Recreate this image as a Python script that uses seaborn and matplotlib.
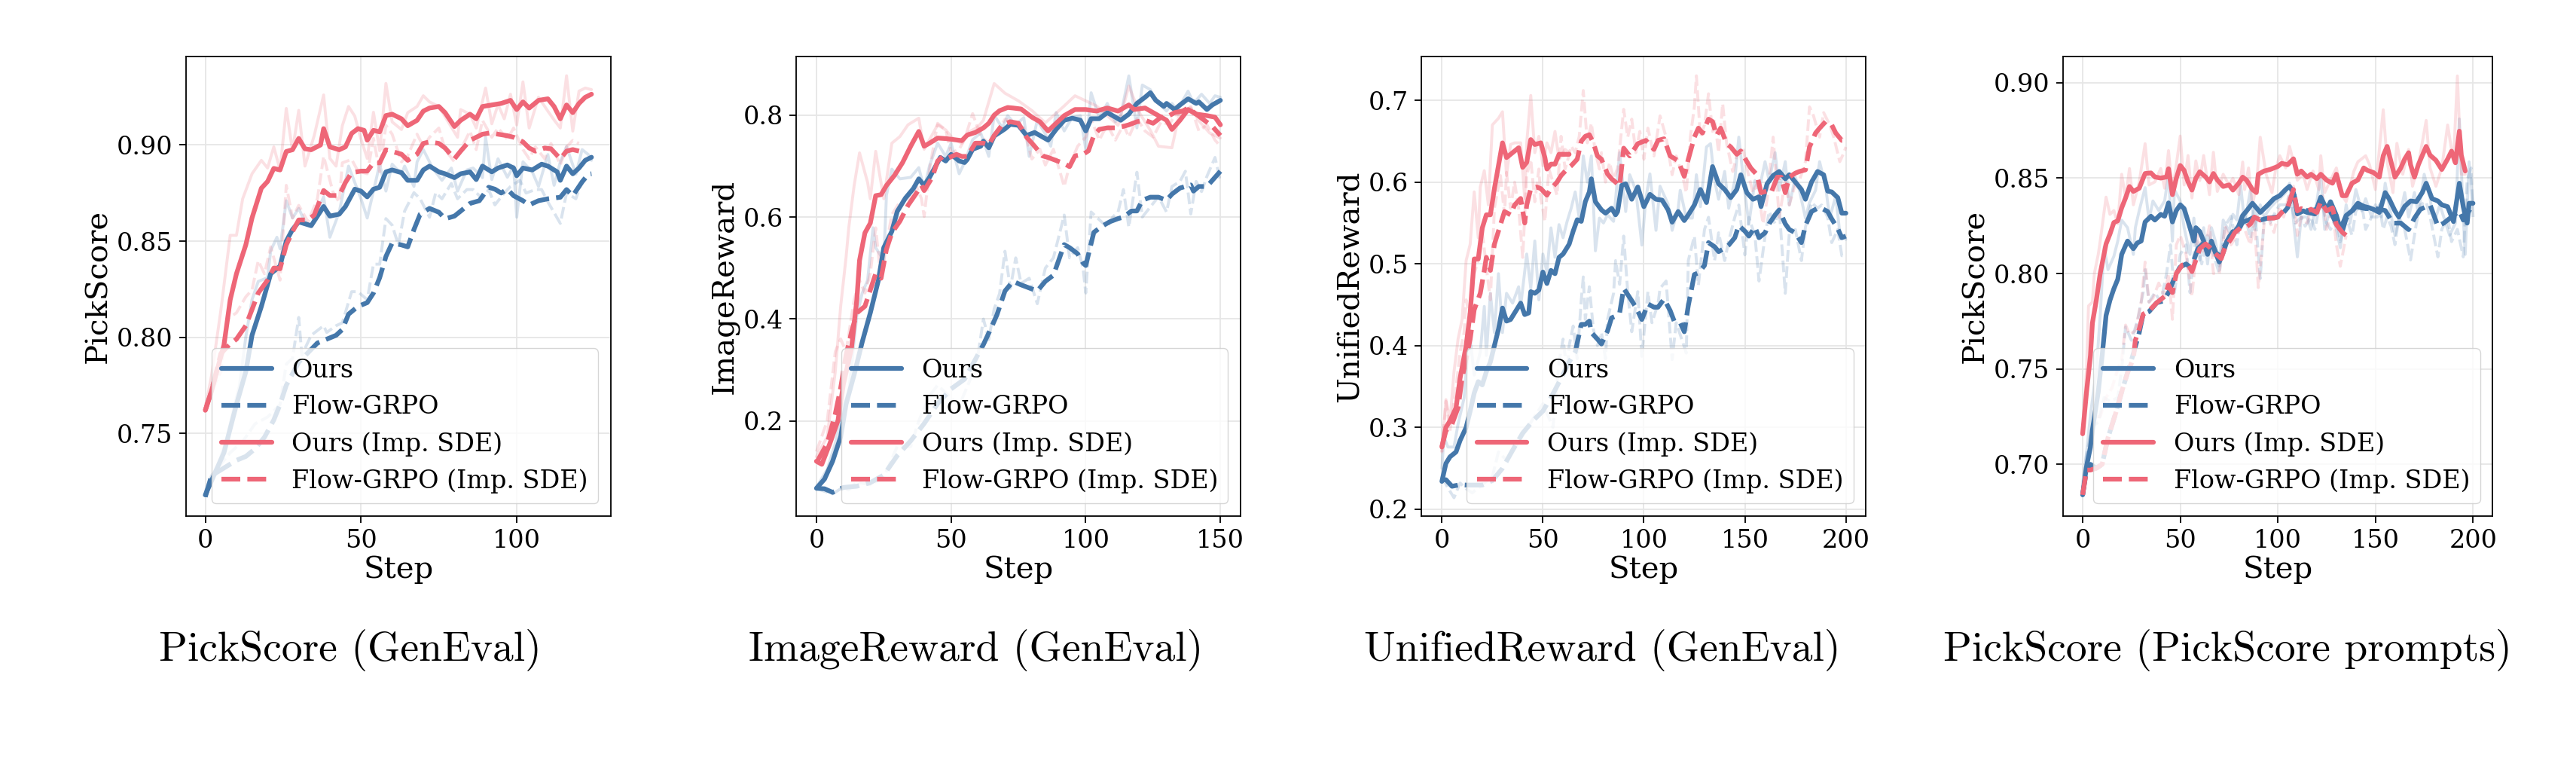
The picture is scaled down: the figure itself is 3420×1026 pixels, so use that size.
import matplotlib
matplotlib.use("Agg")
import matplotlib.pyplot as plt
import seaborn as sns

# (step, value) pairs; "_raw" are the faint unsmoothed traces

# ---- PickScore (GenEval) ----
p1_ours = [(0,.718),(6,.740),(10,.765),(13,.782),(15,.801),(18,.816),(21,.833),(24,.837),(26,.850),(28,.856),(30,.860),(34,.858),(36,.863),(38,.868),(40,.863),(43,.864),(45,.868),(47,.874),(48,.877),(50,.876),(52,.873),(54,.877),(56,.878),(58,.886),(60,.887),(63,.8856),(65,.8816),(68,.8816),(70,.887),(72,.889),(75,.886),(77,.885),(80,.883),(82,.885),(85,.886),(87,.882),(89,.889),(92,.886),(94,.888),(97,.8896),(99,.888),(100,.884),(102,.888),(105,.887),(108,.890),(110,.889),(113,.886),(114,.8816),(116,.889),(118,.885),(120,.888),(122,.892),(124,.8936)]
p1_flow = [(0,.717),(2,.728),(5,.731),(8,.734),(10,.736),(13,.738),(16,.742),(19,.748),(22,.757),(24,.765),(26,.775),(30,.787),(33,.792),(36,.797),(39,.799),(42,.801),(44,.804),(46,.812),(49,.816),(52,.818),(54,.823),(56,.831),(58,.842),(60,.849),(63,.848),(65,.847),(67,.856),(69,.864),(72,.867),(75,.865),(77,.8616),(80,.863),(82,.8656),(85,.8696),(88,.871),(91,.878),(93,.877),(95,.875),(97,.877),(99,.8736),(102,.871),(104,.8688),(107,.871),(110,.872),(114,.8728),(116,.8768),(118,.8736),(121,.8808),(123,.8848),(124,.885)]
p1_ours_imp = [(0,.762),(2,.772),(4,.784),(6,.796),(8,.8195),(10,.833),(13,.848),(15,.862),(18,.8775),(20,.881),(22,.8878),(24,.887),(26,.8966),(28,.8975),(30,.9034),(32,.898),(34,.8975),(37,.900),(38,.9085),(40,.899),(43,.8975),(45,.899),(47,.906),(49,.9085),(51,.9076),(52,.9025),(54,.9076),(56,.9068),(58,.9153),(60,.916),(63,.9136),(65,.910),(68,.9128),(70,.9176),(72,.9192),(75,.920),(77,.9168),(80,.9096),(82,.9128),(85,.916),(87,.9136),(89,.920),(92,.9208),(95,.9216),(98,.9232),(100,.9184),(102,.9224),(104,.9192),(107,.9232),(110,.924),(112,.920),(114,.9136),(116,.9208),(118,.9168),(120,.9216),(122,.9248),(124,.9264)]
p1_flow_imp = [(0,.762),(2,.772),(5,.7915),(8,.7966),(10,.799),(13,.806),(15,.8144),(17,.823),(20,.8297),(22,.836),(24,.8356),(26,.848),(28,.855),(30,.861),(33,.861),(35,.8636),(38,.8763),(40,.8737),(43,.8737),(45,.8805),(47,.8856),(50,.8864),(52,.8864),(54,.8907),(56,.8907),(58,.8975),(60,.8966),(63,.8952),(65,.892),(68,.8952),(70,.9008),(72,.9016),(75,.9008),(77,.8984),(80,.8928),(82,.8968),(85,.9024),(87,.904),(89,.9056),(92,.9064),(94,.9056),(97,.9048),(99,.904),(102,.9016),(104,.8984),(106,.8968),(109,.8984),(111,.898),(114,.8928),(116,.8968),(118,.8976),(120,.8968)]
p1_ours_raw = [(0,.72),(2,.728),(4,.733),(7,.748),(9,.762),(11,.775),(13,.80),(15,.8195),(17,.829),(20,.831),(21,.845),(23,.852),(24,.846),(26,.871),(28,.862),(30,.867),(32,.860),(34,.858),(38,.873),(40,.852),(43,.865),(46,.889),(50,.872),(52,.862),(56,.89),(58,.876),(60,.89),(63,.8848),(64,.889),(67,.8784),(68,.8912),(70,.8976),(73,.888),(76,.8816),(79,.888),(81,.876),(84,.887),(86,.888),(89,.883),(90,.904),(92,.882),(94,.8928),(97,.8832),(99,.889),(100,.8624),(102,.8912),(105,.886),(107,.8784),(110,.895),(112,.879),(114,.8912),(116,.8992),(119,.8848),(121,.8976),(123,.895),(124,.892)]
p1_flow_raw = [(0,.717),(3,.73),(8,.74),(12,.7458),(16,.755),(20,.7585),(24,.765),(26,.786),(28,.789),(30,.8103),(31,.7907),(34,.801),(38,.806),(39,.8025),(42,.806),(44,.8075),(47,.8237),(49,.8237),(52,.8195),(54,.838),(56,.838),(58,.8617),(60,.8583),(62,.848),(64,.8656),(67,.8752),(69,.872),(72,.8624),(74,.8752),(76,.872),(79,.88),(81,.872),(84,.8768),(86,.8768),(89,.872),(91,.8768),(93,.8688),(96,.875),(98,.8784),(101,.8816),(103,.875),(106,.8768),(108,.8768),(110,.8704),(114,.8592),(116,.875),(119,.872),(121,.8816),(123,.8832)]
p1_ours_imp_raw = [(0,.763),(2,.780),(5,.814),(8,.853),(10,.853),(12,.872),(15,.885),(18,.892),(20,.888),(22,.899),(24,.887),(26,.919),(28,.897),(30,.918),(32,.889),(35,.905),(38,.926),(40,.893),(42,.889),(44,.910),(46,.920),(48,.915),(50,.903),(52,.893),(54,.917),(56,.897),(58,.932),(60,.912),(63,.908),(65,.9168),(68,.920),(70,.9256),(72,.9224),(75,.920),(78,.912),(81,.904),(82,.9184),(85,.916),(87,.9088),(90,.9296),(92,.911),(94,.921),(96,.9136),(98,.9264),(100,.9104),(102,.9328),(104,.9088),(107,.9248),(110,.9176),(112,.913),(114,.9088),(116,.936),(118,.9072),(120,.928),(122,.9296),(124,.9288)]
p1_flow_imp_raw = [(0,.765),(2,.772),(5,.782),(7,.8093),(10,.8127),(13,.821),(15,.8246),(17,.8398),(19,.833),(21,.847),(24,.8297),(26,.879),(28,.862),(30,.8686),(33,.860),(36,.872),(38,.8941),(41,.8755),(43,.8703),(44,.8907),(47,.8925),(49,.8864),(52,.885),(54,.9034),(56,.886),(58,.9102),(60,.9056),(63,.8912),(65,.8944),(68,.9056),(70,.8992),(72,.904),(75,.9088),(77,.8976),(80,.8912),(82,.8976),(85,.9072),(87,.8976),(89,.9128),(92,.904),(94,.9088),(97,.903),(99,.9088),(102,.8976),(104,.8928),(106,.899),(109,.8928),(111,.9008),(114,.8896),(116,.899),(118,.9024),(120,.9008)]

# ---- ImageReward (GenEval) ----
p2_ours = [(0,.068),(3,.086),(6,.121),(9,.169),(11,.233),(14,.291),(17,.355),(20,.412),(23,.476),(25,.540),(28,.572),(30,.611),(33,.637),(36,.656),(38,.675),(40,.662),(42,.678),(45,.707),(46,.717),(48,.710),(50,.723),(53,.710),(55,.707),(56,.713),(58,.733),(61,.739),(62,.749),(64,.736),(66,.759),(70,.773),(72,.782),(75,.780),(78,.760),(81,.766),(84,.757),(86,.751),(89,.772),(92,.790),(95,.794),(98,.790),(100,.769),(102,.793),(105,.793),(108,.805),(111,.796),(113,.790),(116,.802),(119,.823),(122,.835),(124,.844),(126,.829),(129,.817),(130,.823),(133,.811),(135,.820),(138,.832),(141,.823),(142,.826),(145,.811),(147,.820),(150,.829)]
p2_flow = [(0,.068),(3,.067),(6,.060),(10,.0696),(15,.072),(20,.079),(25,.094),(30,.132),(35,.161),(40,.195),(45,.234),(50,.263),(55,.282),(58,.311),(62,.350),(65,.384),(67,.408),(70,.455),(73,.474),(76,.467),(79,.461),(82,.455),(85,.474),(88,.486),(90,.516),(92,.546),(94,.540),(97,.528),(99,.510),(100,.505),(103,.570),(106,.582),(109,.591),(112,.597),(114,.600),(117,.612),(119,.612),(121,.633),(124,.639),(127,.639),(130,.633),(132,.645),(135,.657),(139,.663),(140,.651),(142,.660),(145,.660),(147,.672),(150,.690)]
p2_ours_imp = [(0,.121),(2,.115),(5,.156),(8,.201),(10,.272),(13,.342),(15,.438),(16,.515),(18,.569),(20,.588),(22,.642),(24,.644),(26,.662),(29,.682),(32,.707),(35,.739),(38,.768),(40,.739),(42,.745),(45,.755),(48,.754),(51,.752),(54,.750),(56,.761),(59,.766),(62,.775),(64,.784),(66,.800),(68,.8087),(71,.815),(73,.814),(76,.812),(80,.796),(83,.787),(86,.769),(89,.784),(92,.799),(96,.811),(100,.811),(104,.808),(108,.814),(112,.808),(116,.820),(118,.811),(122,.814),(126,.802),(130,.790),(132,.772),(135,.790),(138,.811),(141,.802),(145,.799),(148,.796),(150,.781)]
p2_flow_imp = [(0,.118),(4,.156),(7,.214),(9,.265),(11,.329),(13,.374),(15,.412),(18,.425),(20,.457),(22,.489),(24,.480),(26,.537),(28,.569),(31,.592),(34,.623),(37,.646),(39,.662),(40,.652),(43,.678),(45,.710),(47,.719),(49,.716),(52,.723),(54,.719),(56,.719),(59,.745),(62,.745),(64,.742),(66,.760),(69,.781),(72,.787),(75,.784),(78,.757),(81,.739),(84,.720),(86,.717),(89,.711),(92,.705),(94,.699),(96,.720),(99,.723),(101,.730),(103,.760),(105,.772),(108,.775),(111,.775),(114,.778),(116,.781),(119,.787),(122,.790),(125,.784),(128,.796),(131,.799),(133,.805),(136,.808),(138,.814),(141,.802),(144,.790),(147,.778),(150,.760)]
p2_ours_raw = [(0,.070),(4,.105),(7,.156),(10,.227),(12,.259),(15,.406),(17,.451),(19,.476),(21,.579),(22,.540),(25,.515),(26,.643),(28,.694),(31,.675),(35,.678),(38,.697),(40,.656),(42,.701),(45,.745),(48,.719),(50,.745),(53,.685),(55,.707),(58,.752),(61,.765),(64,.719),(66,.800),(69,.775),(71,.799),(74,.781),(77,.795),(79,.719),(82,.790),(85,.763),(87,.739),(89,.805),(92,.769),(95,.796),(98,.799),(100,.733),(102,.844),(105,.795),(108,.823),(111,.787),(113,.800),(116,.877),(119,.775),(121,.859),(124,.850),(126,.829),(130,.808),(132,.823),(134,.810),(138,.847),(140,.823),(143,.841),(146,.823),(148,.838),(150,.835)]
p2_flow_raw = [(0,.068),(3,.062),(6,.057),(9,.067),(12,.065),(15,.080),(20,.075),(25,.090),(30,.150),(35,.150),(38,.200),(42,.250),(45,.270),(50,.245),(53,.230),(57,.280),(60,.330),(62,.400),(64,.360),(66,.420),(68,.450),(70,.533),(72,.460),(74,.520),(76,.470),(79,.480),(82,.430),(85,.500),(88,.520),(92,.604),(94,.520),(97,.540),(99,.500),(100,.451),(102,.610),(104,.600),(108,.580),(110,.600),(112,.610),(114,.654),(116,.580),(119,.688),(121,.600),(124,.620),(127,.640),(130,.610),(132,.660),(135,.670),(137,.690),(139,.606),(141,.670),(143,.650),(145,.680),(148,.717),(150,.670)]
p2_ours_imp_raw = [(0,.130),(4,.169),(7,.297),(9,.425),(11,.521),(12,.579),(14,.662),(16,.726),(19,.668),(20,.636),(22,.729),(25,.636),(28,.745),(31,.758),(34,.781),(38,.794),(40,.733),(42,.752),(45,.781),(48,.771),(51,.752),(54,.745),(57,.768),(60,.777),(62,.790),(66,.862),(70,.843),(75,.828),(80,.809),(85,.785),(88,.799),(92,.818),(96,.838),(100,.828),(104,.818),(108,.799),(112,.780),(116,.857),(120,.804),(124,.770),(127,.739),(132,.736),(135,.809),(139,.814),(142,.789),(146,.765),(150,.755)]
p2_flow_imp_raw = [(0,.140),(4,.200),(7,.336),(9,.361),(11,.336),(14,.438),(16,.476),(18,.451),(20,.489),(22,.579),(24,.476),(26,.547),(28,.605),(31,.630),(34,.636),(37,.662),(39,.636),(40,.601),(42,.694),(45,.784),(48,.771),(50,.726),(53,.733),(55,.752),(58,.803),(61,.758),(64,.745),(66,.757),(70,.792),(73,.787),(77,.775),(80,.714),(83,.733),(85,.702),(88,.733),(92,.660),(94,.702),(97,.739),(100,.757),(102,.793),(105,.751),(108,.781),(111,.751),(114,.781),(116,.757),(119,.793),(122,.769),(125,.757),(128,.787),(131,.781),(133,.799),(136,.805),(139,.817),(142,.769),(145,.781),(148,.751),(150,.739)]

# ---- UnifiedReward (GenEval) ----
p3_ours = [(0,.234),(2,.256),(4,.264),(7,.270),(9,.284),(12,.300),(14,.320),(16,.342),(18,.356),(20,.352),(22,.368),(24,.380),(26,.400),(28,.420),(30,.446),(32,.430),(34,.432),(37,.444),(39,.452),(41,.438),(43,.440),(44,.466),(46,.464),(48,.468),(50,.490),(52,.476),(54,.492),(56,.488),(58,.508),(60,.512),(63,.524),(65,.540),(67,.554),(69,.552),(71,.576),(73,.588),(74,.604),(76,.576),(79,.566),(81,.562),(84,.568),(86,.560),(87,.564),(89,.596),(91,.598),(94,.579),(97,.594),(100,.570),(103,.585),(106,.579),(109,.578),(112,.566),(114,.551),(117,.564),(120,.553),(122,.560),(125,.572),(128,.591),(131,.575),(134,.619),(137,.598),(140,.591),(143,.581),(146,.591),(148,.609),(151,.587),(154,.579),(157,.582),(158,.570),(161,.598),(164,.608),(167,.613),(170,.604),(172,.609),(175,.600),(178,.591),(180,.579),(183,.600),(186,.613),(189,.609),(191,.589),(193,.588),(196,.581),(198,.562),(200,.562)]
p3_flow = [(0,.236),(2,.236),(5,.228),(9,.230),(12,.2295),(20,.2295),(25,.235),(30,.250),(35,.272),(40,.293),(45,.308),(50,.320),(55,.341),(60,.365),(63,.380),(66,.392),(69,.426),(71,.426),(73,.430),(74,.416),(77,.408),(79,.402),(82,.418),(84,.434),(86,.436),(88,.440),(90,.470),(94,.455),(96,.447),(99,.432),(102,.451),(105,.447),(107,.447),(110,.457),(113,.443),(115,.430),(118,.428),(120,.417),(122,.449),(125,.487),(127,.489),(130,.498),(132,.526),(135,.521),(137,.515),(140,.519),(142,.523),(145,.532),(147,.547),(150,.540),(152,.534),(155,.545),(157,.532),(160,.538),(162,.549),(165,.560),(167,.566),(170,.549),(172,.542),(175,.538),(178,.526),(180,.547),(183,.564),(186,.568),(188,.568),(191,.564),(193,.555),(196,.543),(198,.532),(200,.534)]
p3_ours_imp = [(0,.276),(2,.300),(4,.308),(7,.324),(9,.360),(12,.400),(14,.440),(16,.506),(18,.506),(20,.544),(22,.560),(24,.560),(26,.592),(28,.620),(30,.648),(32,.630),(34,.634),(38,.642),(40,.618),(42,.624),(44,.652),(46,.646),(49,.648),(51,.630),(52,.616),(54,.622),(56,.622),(58,.634),(61,.634),(63,.634)]
p3_flow_imp = [(0,.276),(2,.296),(5,.304),(8,.324),(10,.360),(12,.384),(14,.408),(16,.444),(19,.464),(21,.492),(22,.508),(24,.492),(26,.524),(29,.548),(31,.564),(34,.560),(36,.572),(39,.580),(41,.550),(42,.572),(44,.592),(47,.594),(49,.592),(52,.584),(54,.592),(57,.600),(59,.608),(62,.616),(64,.620),(67,.628),(69,.650),(71,.656),(73,.658),(75,.648),(77,.632),(79,.628),(82,.610),(84,.604),(86,.600),(88,.595),(90,.6415),(93,.632),(97,.647),(101,.651),(105,.640),(107,.651),(110,.653),(113,.632),(117,.626),(120,.607),(122,.628),(125,.655),(127,.666),(129,.660),(132,.677),(134,.674),(136,.657),(138,.666),(141,.647),(143,.643),(146,.634),(148,.638),(151,.625),(153,.617),(156,.609),(158,.587),(161,.589),(163,.587),(166,.606),(168,.606),(170,.587),(172,.606),(175,.611),(177,.613),(180,.615),(182,.643),(185,.660),(187,.666),(190,.674),(193,.670),(195,.660),(198,.651),(200,.651)]
p3_ours_raw = [(0,.250),(1,.288),(3,.276),(6,.276),(8,.304),(11,.336),(12,.368),(14,.408),(16,.364),(19,.392),(21,.448),(22,.388),(24,.464),(26,.416),(28,.488),(30,.416),(32,.464),(35,.452),(38,.472),(39,.448),(42,.512),(44,.470),(46,.528),(48,.456),(50,.512),(52,.490),(54,.544),(56,.508),(58,.548),(60,.532),(62,.552),(64,.568),(66,.588),(68,.556),(70,.632),(72,.600),(74,.632),(76,.516),(78,.556),(80,.550),(82,.560),(85,.552),(86,.579),(88,.636),(91,.564),(93,.609),(96,.590),(99,.523),(101,.580),(103,.610),(106,.541),(108,.595),(112,.573),(114,.541),(117,.568),(118,.590),(121,.556),(124,.556),(126,.609),(128,.570),(131,.643),(133,.647),(135,.602),(137,.579),(140,.613),(142,.568),(145,.602),(147,.655),(150,.587),(152,.549),(155,.602),(157,.590),(160,.625),(162,.602),(165,.636),(167,.590),(170,.625),(172,.572),(175,.606),(177,.590),(180,.556),(182,.575),(185,.590),(187,.625),(190,.594),(192,.556),(195,.583),(197,.538),(200,.530)]
p3_flow_raw = [(0,.240),(3,.226),(6,.214),(9,.232),(12,.225),(15,.220),(20,.230),(25,.240),(28,.270),(32,.260),(36,.275),(40,.290),(45,.310),(50,.329),(55,.300),(58,.380),(60,.408),(62,.368),(63,.400),(65,.424),(67,.384),(69,.456),(70,.484),(71,.432),(73,.472),(75,.420),(77,.400),(79,.416),(81,.384),(82,.432),(85,.464),(86,.504),(88,.475),(90,.534),(92,.466),(94,.417),(97,.466),(99,.387),(102,.466),(104,.428),(107,.451),(108,.470),(111,.479),(114,.383),(116,.428),(119,.406),(121,.391),(122,.504),(125,.534),(127,.474),(130,.542),(132,.557),(135,.504),(137,.538),(140,.504),(142,.528),(145,.557),(147,.572),(150,.511),(152,.557),(155,.534),(157,.479),(160,.534),(162,.564),(165,.549),(167,.568),(170,.464),(172,.538),(175,.542),(178,.504),(180,.545),(183,.575),(186,.568),(188,.572),(191,.557),(193,.526),(196,.542),(198,.510),(200,.510)]
p3_ours_imp_raw = [(0,.270),(2,.334),(4,.308),(6,.368),(8,.408),(10,.432),(12,.504),(14,.524),(16,.588),(18,.532),(19,.594),(21,.614),(23,.572),(25,.670),(28,.678),(30,.686),(32,.608),(34,.646),(36,.648),(39,.648),(41,.580),(42,.648),(44,.706),(46,.636),(48,.656),(50,.620),(52,.648),(54,.636),(56,.662),(58,.628),(61,.640),(63,.636)]
p3_flow_imp_raw = [(0,.270),(2,.332),(4,.296),(7,.348),(9,.392),(11,.416),(12,.456),(14,.432),(16,.488),(18,.504),(20,.540),(22,.496),(24,.456),(26,.568),(29,.608),(31,.560),(32,.612),(34,.568),(36,.600),(38,.568),(40,.508),(42,.608),(44,.628),(46,.576),(48,.616),(49,.580),(51,.552),(53,.616),(55,.600),(57,.584),(59,.656),(61,.616),(62,.624),(64,.644),(66,.636),(68,.656),(70,.712),(72,.648),(74,.672),(76,.636),(78,.616),(79,.636),(81,.600),(83,.624),(85,.604),(87,.617),(90,.689),(92,.655),(94,.677),(96,.636),(98,.662),(100,.628),(102,.666),(105,.632),(108,.681),(111,.655),(114,.609),(116,.632),(119,.609),(121,.587),(123,.655),(125,.692),(126,.730),(128,.655),(130,.670),(132,.708),(134,.662),(135,.677),(137,.636),(139,.696),(141,.647),(144,.613),(146,.632),(149,.643),(151,.617),(154,.587),(156,.598),(159,.549),(161,.579),(164,.655),(167,.557),(170,.602),(172,.572),(175,.598),(177,.602),(180,.625),(182,.692),(184,.681),(187,.655),(189,.685),(192,.670),(194,.655),(197,.625),(199,.636),(200,.643)]

# ---- PickScore (PickScore prompts) ----
p4_ours = [(0,.684),(2,.699),(4,.709),(5,.718),(8,.738),(10,.757),(12,.778),(14,.786),(16,.792),(18,.797),(20,.810),(23,.817),(26,.813),(28,.816),(30,.817),(32,.827),(35,.830),(37,.828),(40,.831),(42,.830),(44,.837),(46,.827),(48,.833),(50,.836),(52,.834),(55,.824),(57,.817),(58,.824),(60,.822),(62,.817),(64,.810),(66,.817),(68,.811),(70,.806),(72,.811),(74,.817),(76,.820),(78,.822),(80,.825),(82,.8304),(84,.8328),(87,.8368),(91,.832),(95,.836),(98,.8392),(101,.8408),(104,.844),(106,.8457),(108,.8424),(110,.8312),(113,.8328),(115,.832),(119,.8312),(122,.840),(125,.8336),(127,.8376),(130,.8304),(132,.8232),(135,.8304),(138,.8328),(141,.8368),(144,.8352),(147,.8344),(149,.8336),(152,.832),(155,.8424),(157,.8392),(160,.8328),(162,.8296),(165,.8352),(168,.838),(171,.8376),(174,.8424),(176,.8473),(179,.8392),(182,.838),(184,.836),(187,.835),(190,.8272),(193,.8473),(195,.835),(197,.8264),(198,.8368),(200,.8368)]
p4_flow = [(0,.684),(2,.697),(4,.700),(7,.698),(10,.700),(13,.714),(17,.727),(20,.738),(23,.748),(26,.758),(29,.769),(31,.7787),(34,.780),(38,.7847),(41,.7855),(44,.790),(46,.795),(48,.800),(50,.8034),(53,.805),(55,.8034),(57,.807),(59,.813),(62,.816),(64,.815),(67,.814),(69,.809),(72,.813),(75,.819),(77,.822),(80,.823),(82,.827),(85,.828),(88,.8296),(91,.828),(95,.829),(100,.8296),(103,.832),(105,.8344),(108,.843),(110,.8328),(113,.833),(117,.833),(120,.8336),(123,.837),(126,.8344),(130,.826),(133,.822),(135,.829),(140,.835),(145,.834),(150,.834),(155,.833),(159,.8264),(163,.8264),(167,.823),(170,.829),(173,.8336),(178,.836),(182,.8248),(185,.8264),(189,.8296),(193,.8328),(195,.828),(198,.8328),(200,.8375)]
p4_ours_imp = [(0,.716),(2,.738),(4,.757),(5,.774),(7,.786),(9,.800),(12,.8155),(14,.8207),(16,.8267),(18,.8276),(20,.8344),(22,.8396),(24,.8456),(26,.843),(29,.8447),(32,.8524),(35,.8527),(37,.8506),(40,.850),(43,.8506),(44,.8549),(46,.8413),(48,.8499),(50,.8566),(52,.854),(54,.848),(56,.8437),(58,.8499),(60,.8533),(63,.8506),(65,.848),(67,.8524),(69,.849),(72,.8456),(75,.8464),(77,.8437),(80,.8473),(82,.8505),(84,.8489),(87,.844),(89,.8424),(90,.852),(93,.8537),(96,.8545),(100,.8561),(102,.8577),(105,.857),(108,.8601),(110,.852),(112,.8537),(115,.8505),(117,.852),(120,.8497),(122,.852),(125,.8489),(128,.8473),(130,.852),(133,.8408),(135,.8408),(138,.8473),(141,.849),(144,.8553),(146,.854),(149,.8529),(152,.8505),(154,.8617),(156,.8666),(158,.8585),(160,.8505),(163,.8553),(165,.860),(167,.8633),(168,.857),(170,.8505),(172,.857),(176,.8666),(178,.862),(181,.8593),(184,.8545),(187,.860),(189,.8641),(191,.858),(193,.8746),(194,.862),(196,.8537)]
p4_flow_imp = [(0,.684),(2,.697),(4,.697),(7,.698),(10,.700),(13,.714),(17,.727),(20,.738),(23,.748),(26,.7555),(27,.765),(29,.771),(31,.7787),(34,.7804),(38,.7847),(42,.788),(44,.794),(46,.790),(48,.800),(51,.8044),(54,.805),(56,.801),(58,.807),(60,.813),(63,.8155),(65,.8138),(68,.8104),(71,.8078),(73,.8138),(76,.818),(78,.8215),(81,.824),(84,.8245),(86,.826),(88,.8296),(91,.828),(93,.829),(95,.829),(98,.829),(100,.8296),(102,.832),(105,.8344),(108,.844),(110,.8328),(112,.834),(115,.8328),(117,.8336),(120,.832),(122,.8376),(125,.8328),(128,.8344),(130,.8256),(133,.8216),(135,.820)]
p4_ours_raw = [(0,.690),(2,.706),(4,.726),(7,.749),(9,.778),(11,.814),(13,.802),(16,.809),(18,.817),(20,.828),(23,.824),(26,.810),(27,.824),(29,.833),(32,.845),(34,.828),(36,.838),(39,.833),(42,.838),(44,.852),(46,.817),(47,.844),(50,.838),(52,.824),(55,.810),(57,.829),(58,.816),(60,.807),(62,.824),(64,.805),(66,.824),(68,.817),(70,.804),(72,.828),(75,.822),(77,.831),(79,.828),(81,.846),(83,.826),(86,.844),(88,.823),(91,.836),(93,.8296),(96,.8344),(99,.8376),(101,.8392),(104,.8424),(106,.8473),(110,.8087),(112,.8296),(115,.8296),(117,.8231),(120,.8376),(122,.852),(124,.8231),(127,.8344),(130,.8231),(132,.8135),(135,.836),(137,.8264),(140,.844),(143,.8328),(145,.8392),(148,.8296),(150,.836),(153,.8296),(155,.8473),(157,.836),(160,.820),(162,.828),(165,.8424),(167,.8296),(170,.8424),(172,.8312),(175,.852),(178,.8392),(180,.8264),(183,.836),(185,.8296),(188,.820),(191,.8264),(193,.881),(195,.8296),(196,.810),(198,.8585),(200,.836)]
p4_flow_raw = [(0,.684),(2,.705),(5,.720),(8,.722),(11,.735),(14,.733),(18,.735),(20,.750),(22,.772),(25,.765),(28,.775),(31,.790),(32,.802),(34,.785),(37,.790),(40,.785),(43,.800),(45,.815),(47,.790),(50,.810),(53,.815),(55,.790),(58,.820),(61,.805),(64,.820),(67,.810),(70,.800),(73,.825),(76,.830),(79,.815),(81,.830),(83,.8312),(86,.8183),(88,.836),(91,.7974),(93,.8296),(96,.8264),(99,.8328),(101,.836),(104,.836),(106,.8408),(109,.8264),(112,.8296),(114,.8248),(117,.8296),(119,.8231),(122,.8392),(125,.8264),(127,.8231),(130,.8296),(132,.8167),(135,.8296),(138,.820),(140,.8328),(143,.836),(145,.8231),(148,.8296),(151,.8296),(152,.836),(154,.8231),(156,.8296),(158,.8248),(160,.8151),(162,.8296),(165,.8231),(168,.8071),(171,.8264),(173,.836),(176,.8376),(178,.8296),(182,.8087),(184,.8231),(187,.8296),(189,.8167),(192,.8231),(195,.8087),(197,.8489),(199,.8553),(200,.8296)]
p4_ours_imp_raw = [(0,.716),(2,.750),(3,.783),(5,.785),(6,.800),(8,.810),(9,.817),(12,.840),(14,.831),(16,.833),(18,.826),(20,.852),(22,.8396),(24,.855),(26,.836),(29,.848),(32,.868),(34,.8464),(37,.848),(40,.855),(42,.8447),(44,.8644),(46,.843),(48,.857),(50,.872),(52,.8464),(54,.8618),(56,.8396),(58,.859),(60,.8487),(62,.8618),(65,.8413),(67,.8635),(69,.843),(72,.852),(75,.8464),(77,.8499),(80,.8413),(82,.8584),(83,.844),(85,.8553),(87,.836),(89,.8457),(91,.8714),(94,.852),(97,.8424),(99,.8553),(101,.8617),(104,.8553),(106,.8666),(108,.8585),(110,.8489),(113,.852),(115,.844),(118,.8537),(121,.844),(122,.8617),(124,.8424),(127,.8489),(130,.8553),(133,.8408),(135,.8376),(139,.8537),(141,.8585),(145,.8617),(147,.8569),(150,.844),(154,.8858),(156,.8585),(159,.8424),(161,.8682),(164,.852),(167,.865),(169,.8457),(172,.8569),(176,.8802),(178,.8553),(181,.8457),(184,.8553),(187,.8778),(190,.8585),(192,.9035),(194,.852),(196,.852)]
p4_flow_imp_raw = [(0,.684),(2,.700),(4,.710),(6,.725),(9,.725),(12,.735),(15,.740),(18,.750),(20,.755),(22,.773),(24,.768),(27,.770),(30,.785),(32,.806),(34,.785),(36,.787),(39,.795),(42,.788),(44,.800),(46,.776),(48,.815),(50,.820),(53,.810),(56,.788),(59,.820),(62,.810),(65,.825),(67,.800),(70,.800),(73,.825),(76,.815),(79,.820),(81,.825),(83,.8231),(86,.815),(88,.828),(90,.7926),(93,.8264),(95,.8296),(98,.8215),(101,.8344),(103,.8296),(106,.8424),(108,.8457),(110,.8199),(112,.8296),(115,.8264),(117,.8344),(120,.8296),(123,.8408),(125,.8231),(128,.8344),(130,.815),(132,.8038),(135,.8199)]

labels = ["Ours", "Flow-GRPO", "Ours (Imp. SDE)", "Flow-GRPO (Imp. SDE)"]
captions = ["PickScore (GenEval)", "ImageReward (GenEval)",
            "UnifiedReward (GenEval)", "PickScore (PickScore prompts)"]
ylabels = ["PickScore", "ImageReward", "UnifiedReward", "PickScore"]

BLUE = "#4477AA"
RED = "#EE6677"
DASH = (0, (4.0, 1.5))

sns.set_theme(style="whitegrid", rc={
    "axes.edgecolor": "black", "axes.linewidth": 1.3,
    "grid.color": "#e6e6e6", "grid.linewidth": 1.3,
    "xtick.bottom": True, "ytick.left": True,
    "xtick.major.size": 6.5, "ytick.major.size": 6.5,
    "xtick.major.width": 1.3, "ytick.major.width": 1.3,
    "xtick.major.pad": 6, "ytick.major.pad": 6,
    "xtick.color": "black", "ytick.color": "black",
    "text.color": "black", "axes.labelcolor": "black",
})
plt.rcParams["font.family"] = "serif"
plt.rcParams["font.serif"] = ["DejaVu Serif"]

fig = plt.figure(figsize=(34.2, 10.26), dpi=100)

panels = [
    dict(rect=[0.0722, 0.3324, 0.1649, 0.5945], ylim=(0.707, 0.946), xlim=(-6.2, 130.2),
         xticks=[0, 50, 100], yticks=[0.75, 0.80, 0.85, 0.90], fmt="{:.2f}", capx=0.136,
         series=[(p1_ours, p1_ours_raw), (p1_flow, p1_flow_raw),
                 (p1_ours_imp, p1_ours_imp_raw), (p1_flow_imp, p1_flow_imp_raw)]),
    dict(rect=[0.3091, 0.3324, 0.1725, 0.5945], ylim=(0.0135, 0.915), xlim=(-7.5, 157.5),
         xticks=[0, 50, 100, 150], yticks=[0.2, 0.4, 0.6, 0.8], fmt="{:.1f}", capx=0.3787,
         series=[(p2_ours, p2_ours_raw), (p2_flow, p2_flow_raw),
                 (p2_ours_imp, p2_ours_imp_raw), (p2_flow_imp, p2_flow_imp_raw)]),
    dict(rect=[0.5519, 0.3324, 0.1725, 0.5945], ylim=(0.1916, 0.7536), xlim=(-10, 210),
         xticks=[0, 50, 100, 150, 200], yticks=[0.2, 0.3, 0.4, 0.5, 0.6, 0.7], fmt="{:.1f}", capx=0.6219,
         series=[(p3_ours, p3_ours_raw), (p3_flow, p3_flow_raw),
                 (p3_ours_imp, p3_ours_imp_raw), (p3_flow_imp, p3_flow_imp_raw)]),
    dict(rect=[0.8009, 0.3324, 0.1667, 0.5945], ylim=(0.6729, 0.9137), xlim=(-10, 210),
         xticks=[0, 50, 100, 150, 200], yticks=[0.70, 0.75, 0.80, 0.85, 0.90], fmt="{:.2f}", capx=0.8646,
         series=[(p4_ours, p4_ours_raw), (p4_flow, p4_flow_raw),
                 (p4_ours_imp, p4_ours_imp_raw), (p4_flow_imp, p4_flow_imp_raw)]),
]

styles = [(BLUE, "-"), (BLUE, DASH), (RED, "-"), (RED, DASH)]


def draw(ax, pts, color, ls, lw, alpha, label=None):
    x, y = zip(*pts)
    sns.lineplot(x=list(x), y=list(y), ax=ax, color=color, label=label,
                 estimator=None, errorbar=None, sort=False)
    # seaborn may override width/style, so set them on the drawn line
    line = ax.lines[-1]
    line.set_linewidth(lw)
    line.set_linestyle(ls)
    line.set_alpha(alpha)


for i, p in enumerate(panels):
    ax = fig.add_axes(p["rect"])
    # faint raw traces first, then the smoothed ones on top
    for (smooth, raw), (c, ls) in zip(p["series"], styles):
        draw(ax, raw, c, ls, 2.8, 0.2)
    for (smooth, raw), (c, ls), lab in zip(p["series"], styles, labels):
        draw(ax, smooth, c, ls, 4.5, 1.0, lab)

    ax.set_xlim(*p["xlim"])
    ax.set_ylim(*p["ylim"])
    ax.set_xticks(p["xticks"])
    ax.set_yticks(p["yticks"])
    ax.set_yticklabels([p["fmt"].format(v) for v in p["yticks"]])
    ax.tick_params(labelsize=24)
    ax.set_xlabel("Step", fontsize=29, labelpad=2)
    ax.set_ylabel(ylabels[i], fontsize=29)
    ax.legend(loc="lower right", fontsize=24, framealpha=0.8)
    fig.text(p["capx"], 0.1589, captions[i], family="cmr10", fontsize=40,
             ha="center", va="center")

fig.savefig("out.png", dpi=100)
